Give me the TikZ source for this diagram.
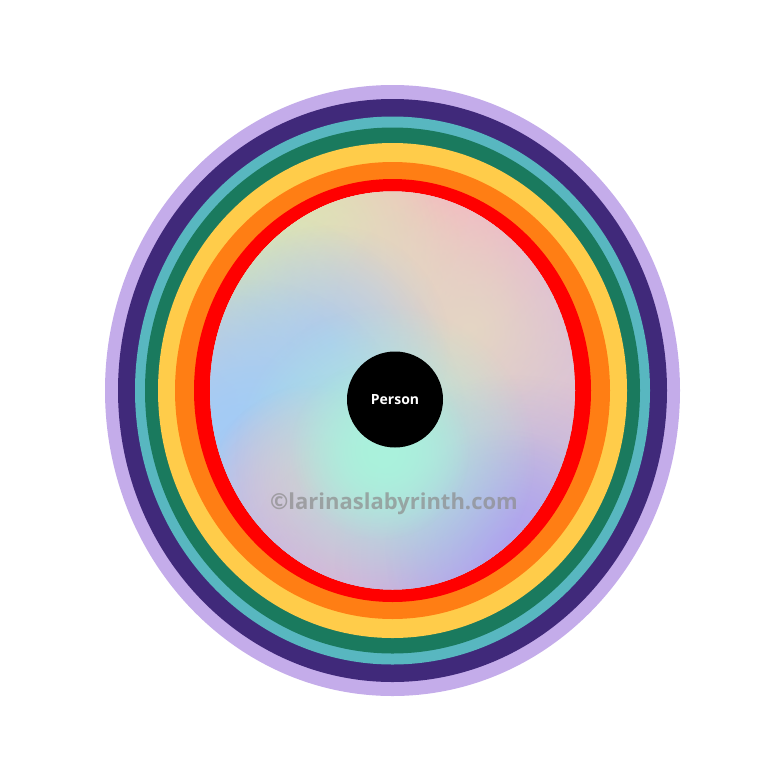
\documentclass[tikz,border=0pt]{standalone}
\usepackage{fontspec}
\setmainfont{Open Sans}
\usetikzlibrary{fadings}
\tikzfading[name=softblob, inner color=transparent!0, outer color=transparent!100]
\definecolor{cLav}{HTML}{C4ACEA}
\definecolor{cPur}{HTML}{40297A}
\definecolor{cTeal}{HTML}{58B7C0}
\definecolor{cGreen}{HTML}{1A7A5E}
\definecolor{cYel}{HTML}{FFCC4A}
\definecolor{cOra}{HTML}{FF7E14}
\definecolor{cRed}{HTML}{FF0000}
\definecolor{cBase}{HTML}{D4C8DA}
\definecolor{bR}{RGB}{226,200,206}
\definecolor{bTR}{RGB}{214,184,228}
\definecolor{bT}{RGB}{250,184,192}
\definecolor{bL}{RGB}{244,188,200}
\definecolor{bY}{RGB}{220,232,178}
\definecolor{bBe}{RGB}{228,214,196}
\definecolor{bBg}{RGB}{184,204,232}
\definecolor{bB}{RGB}{164,204,246}
\definecolor{bP}{RGB}{218,178,216}
\definecolor{bV}{RGB}{176,164,238}
\definecolor{bM}{RGB}{170,242,220}
\definecolor{bMg}{RGB}{196,222,216}
\tikzset{
  band/.style={fill=#1, draw=none},
  blob/.style={fill=#1, path fading=softblob, draw=none},
}
\begin{document}
\begin{tikzpicture}[x=1pt,y=-1pt]
\useasboundingbox (0,0) rectangle (768,774);
\fill[white] (0,0) rectangle (768,774);
\coordinate (c) at (392.5,390.5);
\fill[band=cLav] (c) ellipse [x radius=287.5, y radius=305.5];
\fill[band=cPur] (c) ellipse [x radius=274.5, y radius=291.5];
\fill[band=cTeal] (c) ellipse [x radius=257.5, y radius=274];
\fill[band=cGreen] (c) ellipse [x radius=247.5, y radius=263];
\fill[band=cYel] (c) ellipse [x radius=234.5, y radius=247.5];
\fill[band=cOra] (c) ellipse [x radius=217.5, y radius=228.5];
\fill[band=cRed] (c) ellipse [x radius=198.5, y radius=211.5];
\begin{scope}
\clip (c) ellipse [x radius=182.5, y radius=199];
\fill[cBase] (c) ellipse [x radius=182.5, y radius=199];
\fill[blob=bM] (395,460) circle (220);
\fill[blob=bMg] (505,445) circle (140);
\fill[blob=bR] (575,400) circle (230);
\fill[blob=bTR] (540,255) circle (220);
\fill[blob=bT] (400,195) circle (240);
\fill[blob=bT] (390,195) circle (180);
\fill[blob=bT] (330,200) circle (140);
\fill[blob=bL] (208,335) circle (140);
\fill[blob=bY] (280,255) circle (180);
\fill[blob=bY] (290,250) circle (150);
\fill[blob=bY] (295,250) circle (90);
\fill[blob=bBe] (380,290) circle (140);
\fill[blob=bBe] (470,330) circle (140);
\fill[blob=bBg] (330,345) circle (120);
\fill[blob=bB] (230,445) circle (240);
\fill[blob=bB] (250,440) circle (160);
\fill[blob=bB] (265,545) circle (180);
\fill[blob=bL] (310,485) circle (100);
\fill[blob=bP] (365,570) circle (200);
\fill[blob=bP] (365,565) circle (120);
\fill[blob=bV] (515,555) circle (180);
\fill[blob=bV] (505,550) circle (120);
\fill[blob=bM] (385,455) circle (150);
\fill[blob=bM] (380,450) circle (90);
\end{scope}
\node[circle, fill=black, minimum size=96pt, inner sep=0pt, text=white,
  font=\fontsize{14}{16}\selectfont\bfseries] (person) at (395,399.5) {Person};
\node[text=black!45, opacity=0.7, font=\fontsize{22}{26}\selectfont\bfseries] (wm) at (394,504) {©larinaslabyrinth.com};
\end{tikzpicture}
\end{document}
